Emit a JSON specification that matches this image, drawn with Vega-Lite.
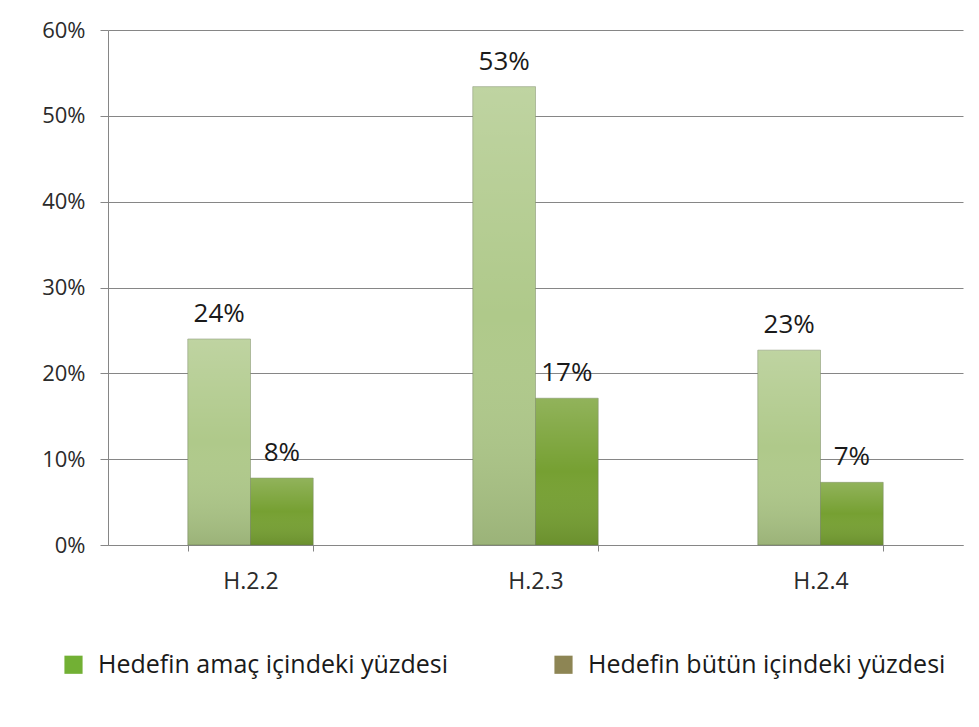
{
  "$schema": "https://vega.github.io/schema/vega-lite/v6.json",
  "autosize": {"type": "none"},
  "width": 855,
  "height": 515,
  "padding": {"left": 108, "top": 30, "right": 16, "bottom": 182},
  "background": "white",
  "config": {
    "font": "Open Sans",
    "view": {"stroke": null},
    "axis": {"labelColor": "#2b2b2b", "domainColor": "#868686", "tickColor": "#868686", "gridColor": "#868686", "labelFont": "Open Sans"}
  },
  "data": {
    "values": [
      {"grp": "H.2.2", "series": "Hedefin amaç içindeki yüzdesi", "value": 0.24},
      {"grp": "H.2.2", "series": "Hedefin bütün içindeki yüzdesi", "value": 0.078},
      {"grp": "H.2.3", "series": "Hedefin amaç içindeki yüzdesi", "value": 0.534},
      {"grp": "H.2.3", "series": "Hedefin bütün içindeki yüzdesi", "value": 0.171},
      {"grp": "H.2.4", "series": "Hedefin amaç içindeki yüzdesi", "value": 0.227},
      {"grp": "H.2.4", "series": "Hedefin bütün içindeki yüzdesi", "value": 0.073}
    ]
  },
  "encoding": {
    "x": {
      "field": "grp", "type": "nominal",
      "scale": {"paddingInner": 0.56, "paddingOuter": 0.28},
      "axis": {"title": null, "labelAngle": 0, "tickBand": "extent", "tickSize": 6, "labelFontSize": 23, "labelFontWeight": "normal", "labelPadding": 19, "grid": false}
    },
    "xOffset": {"field": "series", "type": "nominal", "scale": {"paddingInner": 0, "paddingOuter": 0}},
    "y": {
      "field": "value", "type": "quantitative",
      "scale": {"domain": [0, 0.6], "nice": false},
      "axis": {"title": null, "format": ".0%", "values": [0, 0.1, 0.2, 0.3, 0.4, 0.5, 0.6], "tickSize": 8, "labelFontSize": 22, "labelFontWeight": "normal", "labelPadding": 15, "grid": true}
    }
  },
  "layer": [
    {
      "mark": {"type": "point", "shape": "square", "filled": true, "size": 0},
      "encoding": {
        "color": {
          "field": "series", "type": "nominal",
          "scale": {
            "domain": ["Hedefin amaç içindeki yüzdesi", "Hedefin bütün içindeki yüzdesi"],
            "range": ["#72b034", "#8d8554"]
          },
          "legend": {
            "title": null,
            "orient": "none",
            "legendX": -47,
            "legendY": 622,
            "direction": "horizontal",
            "columns": 2,
            "columnPadding": 102,
            "symbolType": "square",
            "symbolSize": 330,
            "symbolStrokeWidth": 0,
            "symbolOpacity": 1,
            "labelFontSize": 25,
            "labelColor": "#1a1a1a",
            "labelOffset": 12,
            "labelLimit": 500
          }
        }
      }
    },
    {
      "mark": {"type": "bar", "stroke": "#6f7f5a", "strokeWidth": 0.8, "strokeOpacity": 0.6},
      "encoding": {
        "fill": {
          "field": "series", "type": "nominal",
          "scale": {
            "domain": ["Hedefin amaç içindeki yüzdesi", "Hedefin bütün içindeki yüzdesi"],
            "range": ["#afc98a", "#76a032"]
          },
          "legend": null
        }
      }
    },
    {
      "mark": {
        "type": "bar",
        "fill": {"gradient": "linear", "x1": 0, "y1": 0, "x2": 0, "y2": 1, "stops": [{"offset": 0, "color": "rgba(255,255,255,0.2)"}, {"offset": 0.5, "color": "rgba(255,255,255,0)"}, {"offset": 1, "color": "rgba(40,50,20,0.15)"}]}
      },
      "encoding": {}
    },
    {
      "mark": {"type": "text", "baseline": "bottom", "dy": -12, "fontSize": 26, "color": "#1a1a1a"},
      "encoding": {
        "text": {"field": "value", "type": "quantitative", "format": ".0%"}
      }
    }
  ]
}
